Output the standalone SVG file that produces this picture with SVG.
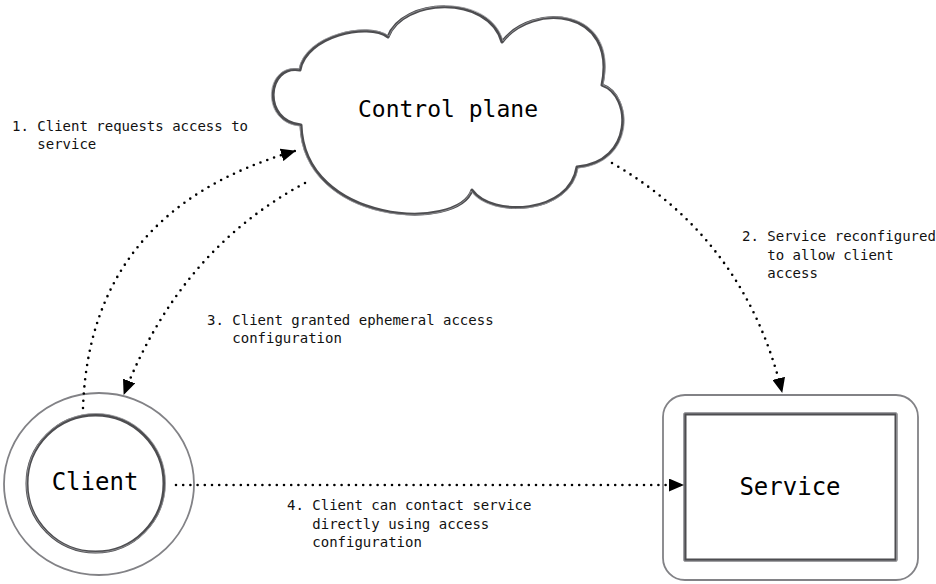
<svg xmlns="http://www.w3.org/2000/svg" width="936" height="584" viewBox="0 0 936 584">
  <style>
    .lbl { font-family: "DejaVu Sans Mono", "Liberation Mono", monospace; font-size: 14px; fill: #111; }
    .big { font-family: "DejaVu Sans Mono", "Liberation Mono", monospace; font-size: 24px; fill: #000; text-anchor: middle; }
    .sketch { fill: #fff; stroke: #4d4d50; stroke-width: 3; stroke-linejoin: round; }
    .sketch2 { fill: none; stroke: #9a9a9e; stroke-width: 0.8; stroke-linejoin: round; }
    .outer { fill: #fff; stroke: #828286; stroke-width: 1.8; }
    .conn { fill: none; stroke: #000; stroke-width: 2.6; stroke-linecap: round; stroke-dasharray: 0 7.2; }
  </style>
  <defs>
    <marker id="arrow" markerUnits="userSpaceOnUse" viewBox="0 0 15 13" refX="14" refY="6.5" markerWidth="15" markerHeight="13" orient="auto">
      <path d="M0,0 L15,6.5 L0,13 Z" fill="#000"/>
    </marker>
  </defs>
  <rect width="936" height="584" fill="#fff"/>

  <g id="control-plane">
    <path class="sketch" d="M 388 37 C 402 -2, 488 -6, 502 42 C 532 2, 618 8, 602 85 C 632 95, 634 162, 577 167 C 570 214, 492 218, 472 190 C 458 232, 304 224, 301 125 C 262 122, 266 64, 300 70 C 306 36, 368 22, 388 37 Z"/>
    <path class="sketch2" d="M 389 36 C 404 -3, 490 -7, 503 41 C 534 1, 620 7, 603 85 C 634 96, 635 163, 578 168 C 571 215, 490 219, 471 191 C 456 233, 303 225, 300 126 C 260 123, 264 63, 299 69 C 305 34, 369 21, 389 36 Z"/>
    <text class="big" x="448" y="117" style="font-size:23px">Control plane</text>
  </g>

  <g id="client">
    <ellipse class="outer" cx="99" cy="484" rx="95" ry="91"/>
    <circle class="sketch" cx="95.5" cy="483.5" r="68.5"/>
    <circle class="sketch2" cx="96" cy="483" r="69.5"/>
    <text class="big" x="95" y="490">Client</text>
  </g>

  <g id="service">
    <rect class="outer" x="663" y="395" width="255" height="185" rx="22" ry="22"/>
    <rect class="sketch" x="685" y="414" width="211" height="146"/>
    <rect class="sketch2" x="684" y="413" width="212.5" height="148"/>
    <text class="big" x="790" y="495">Service</text>
  </g>

  <g id="connectors">
    <path class="conn" d="M 83 408 Q 90 210 295 151" marker-end="url(#arrow)"/>
    <path class="conn" d="M 612 163 Q 745 240 782 392" marker-end="url(#arrow)"/>
    <path class="conn" d="M 305 183 Q 180 250 124 394" marker-end="url(#arrow)"/>
    <path class="conn" d="M 176 485 L 683 485" marker-end="url(#arrow)"/>
  </g>

  <g id="labels">
    <text class="lbl" x="12" y="131">1. Client requests access to<tspan x="37.3" y="149">service</tspan></text>
    <text class="lbl" x="742" y="241">2. Service reconfigured<tspan x="767.3" y="259.5">to allow client</tspan><tspan x="767.3" y="278">access</tspan></text>
    <text class="lbl" x="207" y="325">3. Client granted ephemeral access<tspan x="232.3" y="343">configuration</tspan></text>
    <text class="lbl" x="287" y="510">4. Client can contact service<tspan x="312.3" y="528.5">directly using access</tspan><tspan x="312.3" y="547">configuration</tspan></text>
  </g>
</svg>
